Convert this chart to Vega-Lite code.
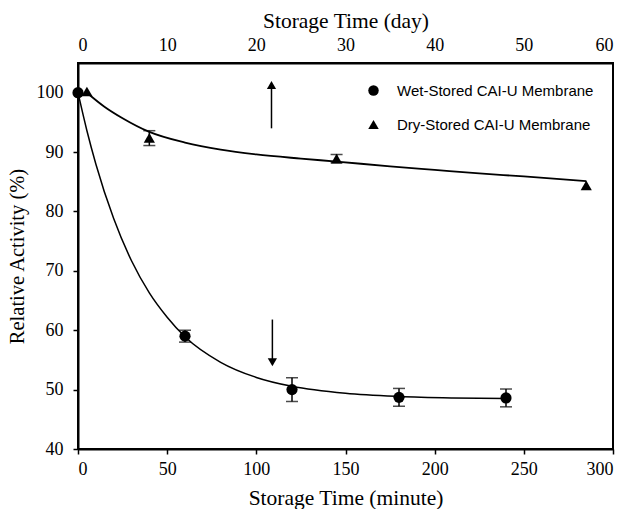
{
  "$schema": "https://vega.github.io/schema/vega-lite/v6.json",
  "width": 535,
  "height": 386,
  "autosize": {"type": "none"},
  "padding": {"left": 78, "top": 63, "right": 17, "bottom": 60},
  "background": "white",
  "config": {
    "view": {"stroke": "black", "strokeWidth": 2}
  },
  "datasets": {
    "wetPoints": [
      {"minute": 0, "activity": 100, "lo": null, "hi": null, "series": "Wet-Stored CAI-U Membrane"},
      {"minute": 60, "activity": 59.0, "lo": 58.0, "hi": 60.0, "series": "Wet-Stored CAI-U Membrane"},
      {"minute": 120, "activity": 50.0, "lo": 48.0, "hi": 52.0, "series": "Wet-Stored CAI-U Membrane"},
      {"minute": 180, "activity": 48.7, "lo": 47.2, "hi": 50.2, "series": "Wet-Stored CAI-U Membrane"},
      {"minute": 240, "activity": 48.6, "lo": 47.1, "hi": 50.1, "series": "Wet-Stored CAI-U Membrane"}
    ],
    "wetFit": [
      {"minute": 0, "activity": 100},
      {"minute": 5, "activity": 93.6},
      {"minute": 10, "activity": 88.0},
      {"minute": 20, "activity": 78.8},
      {"minute": 30, "activity": 71.7},
      {"minute": 40, "activity": 66.3},
      {"minute": 50, "activity": 62.2},
      {"minute": 60, "activity": 58.9},
      {"minute": 80, "activity": 54.6},
      {"minute": 100, "activity": 52.05},
      {"minute": 120, "activity": 50.55},
      {"minute": 150, "activity": 49.37},
      {"minute": 180, "activity": 48.84},
      {"minute": 210, "activity": 48.6},
      {"minute": 240, "activity": 48.5}
    ],
    "arrows": [
      {"dir": "up", "minute": 108.5, "start": 94.0, "end": 101.3},
      {"dir": "down", "minute": 109.0, "start": 61.8, "end": 54.6}
    ],
    "dryPoints": [
      {"day": 1, "activity": 100.2, "lo": null, "hi": null, "series": "Dry-Stored CAI-U Membrane"},
      {"day": 8, "activity": 92.4, "lo": 91.1, "hi": 93.6, "series": "Dry-Stored CAI-U Membrane"},
      {"day": 29, "activity": 88.9, "lo": 88.2, "hi": 89.6, "series": "Dry-Stored CAI-U Membrane"},
      {"day": 57, "activity": 84.4, "lo": null, "hi": null, "series": "Dry-Stored CAI-U Membrane"}
    ],
    "dryFit": [
      {"day": 1, "activity": 100.0},
      {"day": 3, "activity": 97.6},
      {"day": 5, "activity": 95.7},
      {"day": 8, "activity": 93.4},
      {"day": 12, "activity": 91.6},
      {"day": 16, "activity": 90.4},
      {"day": 20, "activity": 89.6},
      {"day": 25, "activity": 88.9},
      {"day": 29, "activity": 88.4},
      {"day": 35, "activity": 87.6},
      {"day": 40, "activity": 87.0},
      {"day": 45, "activity": 86.4},
      {"day": 50, "activity": 85.9},
      {"day": 57, "activity": 85.1}
    ]
  },
  "resolve": {"scale": {"x": "independent"}, "axis": {"x": "independent"}},
  "layer": [
    {
      "encoding": {
        "x": {
          "field": "minute",
          "type": "quantitative",
          "scale": {"domain": [0, 300], "nice": false, "zero": false},
          "axis": {
            "orient": "bottom",
            "values": [0, 50, 100, 150, 200, 250, 300],
            "title": "Storage Time (minute)",
            "grid": false,
            "labelFont": "Liberation Serif",
            "labelFontSize": 18,
            "labelColor": "black",
            "labelPadding": 6,
            "titleFont": "Liberation Serif",
            "titleFontSize": 21.5,
            "titleFontWeight": "normal",
            "titleColor": "black",
            "titlePadding": 9,
            "domainColor": "black",
            "domainWidth": 2,
            "tickColor": "black",
            "tickWidth": 1.5,
            "tickSize": 5
          }
        }
      },
      "layer": [
        {
          "data": {"name": "wetFit"},
          "mark": {"type": "line", "color": "black", "strokeWidth": 1.5, "interpolate": "monotone"},
          "encoding": {
            "y": {
              "field": "activity",
              "type": "quantitative",
              "scale": {"domain": [40, 105], "nice": false, "zero": false},
              "axis": {
                "values": [40, 50, 60, 70, 80, 90, 100],
                "title": "Relative Activity (%)",
                "grid": false,
                "labelFont": "Liberation Serif",
                "labelFontSize": 18,
                "labelColor": "black",
                "labelPadding": 10,
                "titleFont": "Liberation Serif",
                "titleFontSize": 20.5,
                "titleFontWeight": "normal",
                "titleColor": "black",
                "titlePadding": 9,
                "domainColor": "black",
                "domainWidth": 2,
                "tickColor": "black",
                "tickWidth": 1.5,
                "tickSize": 5
              }
            }
          }
        },
        {
          "data": {"name": "wetPoints"},
          "transform": [{"filter": "datum.lo != null"}],
          "mark": {"type": "rule", "color": "black", "strokeWidth": 1.5},
          "encoding": {"y": {"field": "lo", "type": "quantitative"}, "y2": {"field": "hi"}}
        },
        {
          "data": {"name": "wetPoints"},
          "transform": [{"filter": "datum.lo != null"}, {"fold": ["lo", "hi"], "as": ["end", "cap"]}],
          "mark": {"type": "tick", "orient": "horizontal", "color": "black", "size": 12, "thickness": 1.5},
          "encoding": {"y": {"field": "cap", "type": "quantitative"}}
        },
        {
          "data": {"name": "wetPoints"},
          "mark": {"type": "point", "filled": true, "opacity": 1, "color": "black", "size": 125},
          "encoding": {
            "y": {"field": "activity", "type": "quantitative"},
            "shape": {
              "field": "series",
              "type": "nominal",
              "scale": {"domain": ["Wet-Stored CAI-U Membrane", "Dry-Stored CAI-U Membrane"], "range": ["circle", "triangle-up"]},
              "legend": {
                "orient": "none",
                "legendX": 288,
                "legendY": 20,
                "title": null,
                "labelFont": "Liberation Sans",
                "labelFontSize": 15,
                "labelColor": "black",
                "labelLimit": 400,
                "symbolFillColor": "black",
                "symbolStrokeColor": "black",
                "symbolSize": 110,
                "rowPadding": 17,
                "labelOffset": 16
              }
            }
          }
        },
        {
          "data": {"name": "arrows"},
          "mark": {"type": "rule", "color": "black", "strokeWidth": 1.5},
          "encoding": {"y": {"field": "start", "type": "quantitative"}, "y2": {"field": "end"}}
        },
        {
          "data": {"name": "arrows"},
          "transform": [{"filter": "datum.dir == 'up'"}],
          "mark": {"type": "point", "shape": "triangle-up", "filled": true, "opacity": 1, "color": "black", "size": 85},
          "encoding": {"y": {"field": "end", "type": "quantitative"}}
        },
        {
          "data": {"name": "arrows"},
          "transform": [{"filter": "datum.dir == 'down'"}],
          "mark": {"type": "point", "shape": "triangle-down", "filled": true, "opacity": 1, "color": "black", "size": 85},
          "encoding": {"y": {"field": "end", "type": "quantitative"}}
        }
      ]
    },
    {
      "encoding": {
        "x": {
          "field": "day",
          "type": "quantitative",
          "scale": {"domain": [0, 60], "nice": false, "zero": false},
          "axis": {
            "orient": "top",
            "values": [0, 10, 20, 30, 40, 50, 60],
            "title": "Storage Time (day)",
            "grid": false,
            "ticks": false,
            "labelFont": "Liberation Serif",
            "labelFontSize": 18,
            "labelColor": "black",
            "labelPadding": 9,
            "titleFont": "Liberation Serif",
            "titleFontSize": 21.5,
            "titleFontWeight": "normal",
            "titleColor": "black",
            "titlePadding": 4,
            "domainColor": "black",
            "domainWidth": 2
          }
        }
      },
      "layer": [
        {
          "data": {"name": "dryFit"},
          "mark": {"type": "line", "color": "black", "strokeWidth": 1.8, "interpolate": "monotone"},
          "encoding": {"y": {"field": "activity", "type": "quantitative"}}
        },
        {
          "data": {"name": "dryPoints"},
          "transform": [{"filter": "datum.lo != null"}],
          "mark": {"type": "rule", "color": "black", "strokeWidth": 1.5},
          "encoding": {"y": {"field": "lo", "type": "quantitative"}, "y2": {"field": "hi"}}
        },
        {
          "data": {"name": "dryPoints"},
          "transform": [{"filter": "datum.lo != null"}, {"fold": ["lo", "hi"], "as": ["end", "cap"]}],
          "mark": {"type": "tick", "orient": "horizontal", "color": "black", "size": 12, "thickness": 1.5},
          "encoding": {"y": {"field": "cap", "type": "quantitative"}}
        },
        {
          "data": {"name": "dryPoints"},
          "mark": {"type": "point", "filled": true, "opacity": 1, "color": "black", "size": 125},
          "encoding": {
            "y": {"field": "activity", "type": "quantitative"},
            "shape": {"field": "series", "type": "nominal"}
          }
        }
      ]
    }
  ]
}
